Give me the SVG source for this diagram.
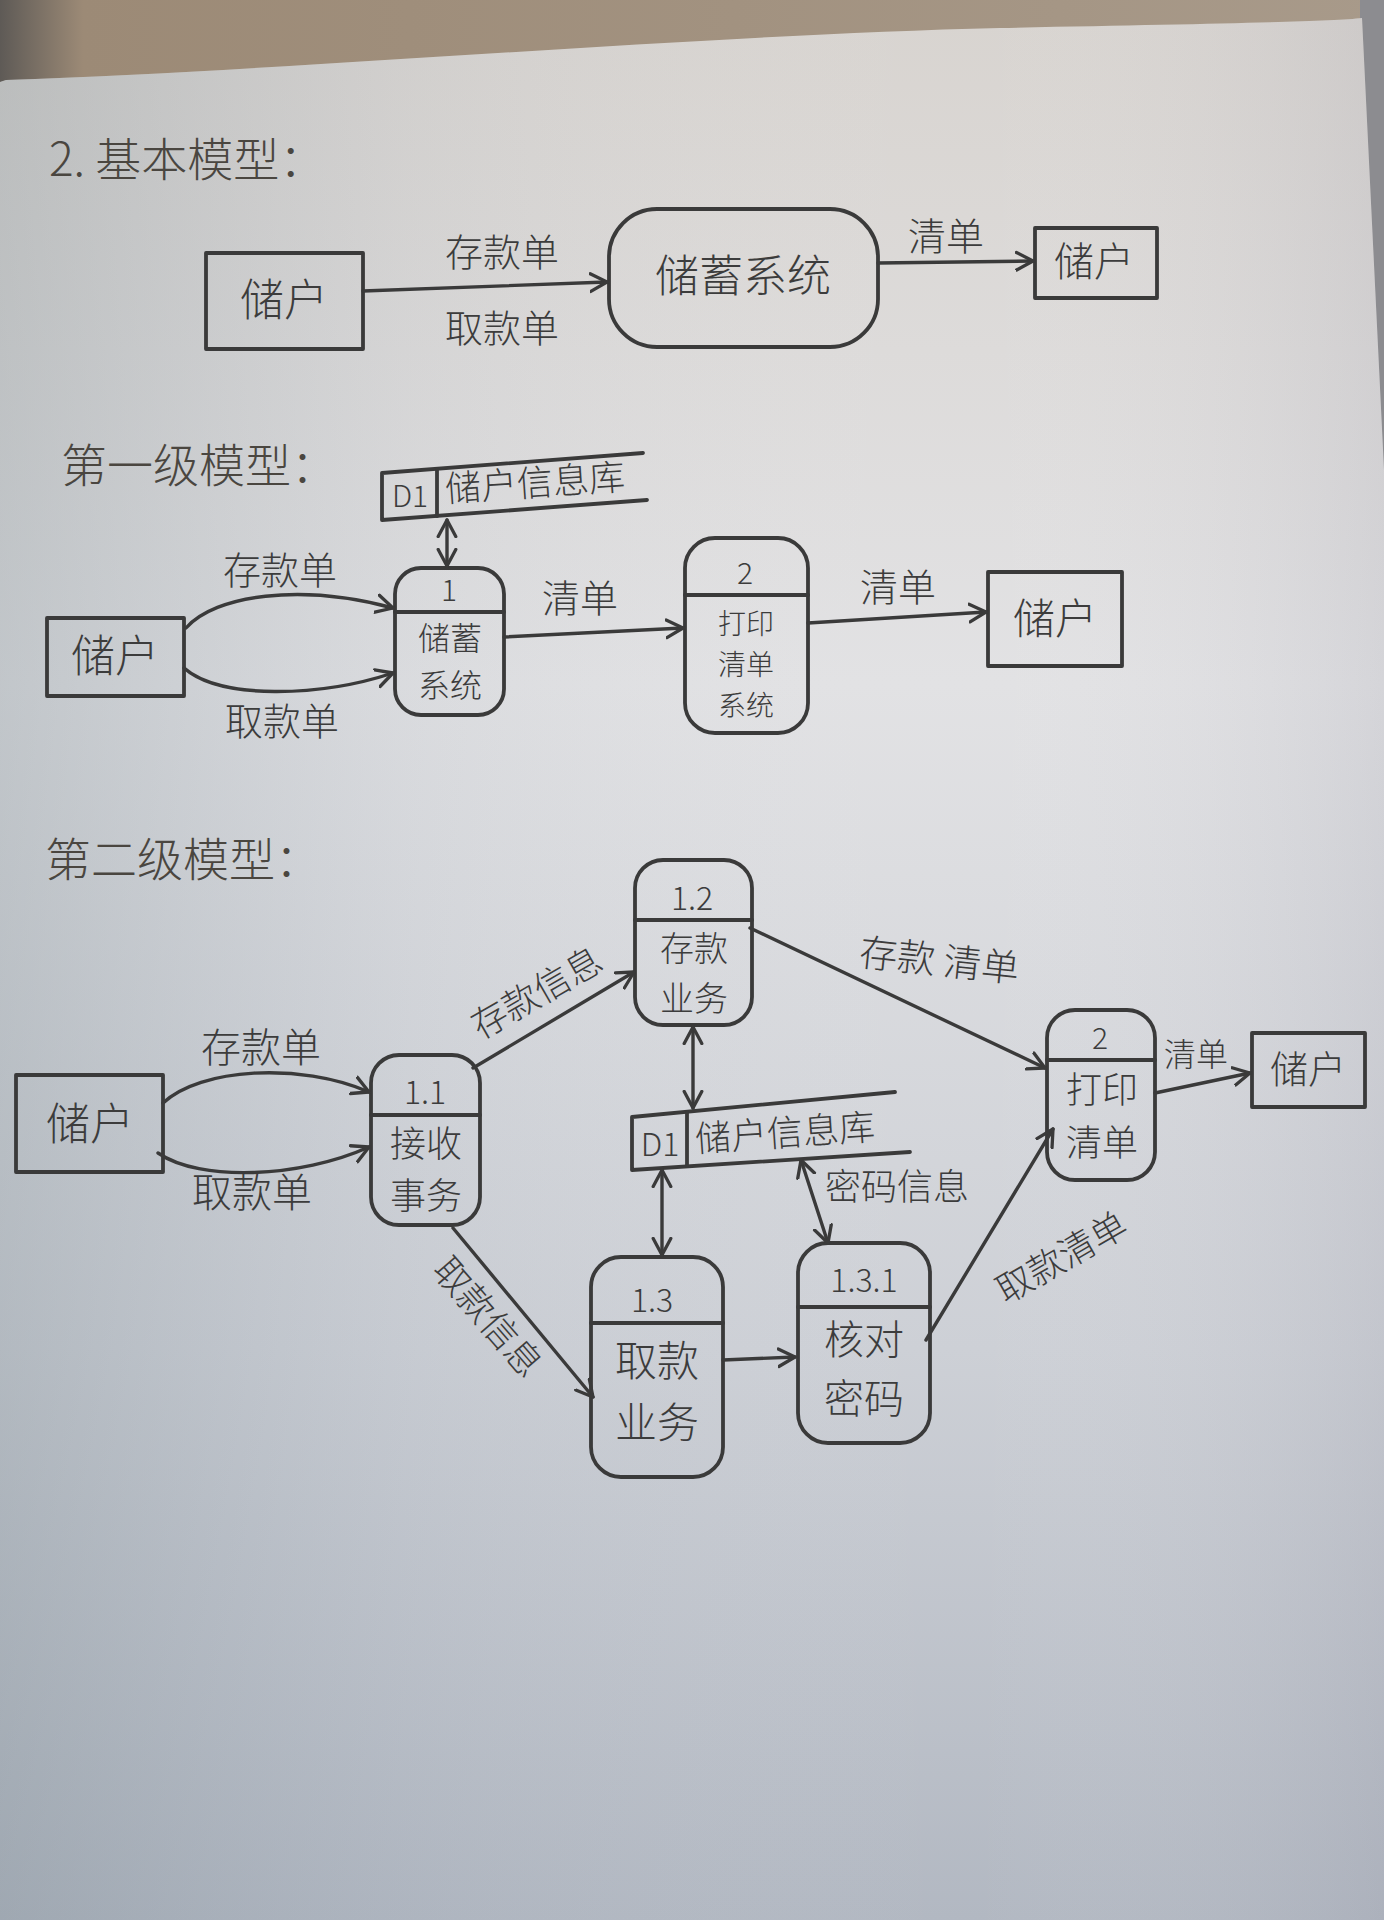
<svg xmlns="http://www.w3.org/2000/svg" width="1384" height="1920" viewBox="0 0 1384 1920">
<defs>
<linearGradient id="bgTop" x1="0" y1="0" x2="1" y2="0">
<stop offset="0" stop-color="#5e5a56"/>
<stop offset="0.06" stop-color="#9c8a76"/>
<stop offset="1" stop-color="#a89a8a"/>
</linearGradient>
<linearGradient id="paperV" x1="0" y1="0" x2="0" y2="1">
<stop offset="0" stop-color="#d8d4d0"/>
<stop offset="0.35" stop-color="#e2e2e4"/>
<stop offset="0.7" stop-color="#cdd0d6"/>
<stop offset="1" stop-color="#b2b8c2"/>
</linearGradient>
<linearGradient id="paperH" x1="0" y1="0" x2="1" y2="0">
<stop offset="0" stop-color="#6f7f88" stop-opacity="0.28"/>
<stop offset="0.3" stop-color="#8090a0" stop-opacity="0.08"/>
<stop offset="0.7" stop-color="#ffffff" stop-opacity="0"/>
<stop offset="1" stop-color="#8a8a9a" stop-opacity="0.15"/>
</linearGradient>
<marker id="arr" markerUnits="userSpaceOnUse" markerWidth="22" markerHeight="22" refX="16" refY="9" orient="auto-start-reverse" viewBox="0 0 20 18">
<path d="M1,1 L16,9 L1,17" fill="none" stroke="#3a3a3a" stroke-width="3" stroke-linecap="round" stroke-linejoin="round"/>
</marker>
<style>
.ln{fill:none;stroke:#3a3a3a;stroke-width:3.8;stroke-linecap:round;stroke-linejoin:round}
.ar{fill:none;stroke:#3a3a3a;stroke-width:3.4;stroke-linecap:round;marker-end:url(#arr)}
.bi{fill:none;stroke:#3a3a3a;stroke-width:3.4;stroke-linecap:round;marker-end:url(#arr);marker-start:url(#arr)}
.t{font-family:"Noto Sans CJK SC","Noto Sans",sans-serif;fill:#3c3c3c;font-weight:300}
.c{text-anchor:middle}
.title{font-family:"Noto Sans CJK SC","Noto Sans",sans-serif;fill:#4a4640;font-weight:300;font-size:46px}
</style>
</defs>

<!-- photo background -->
<rect x="0" y="0" width="1384" height="1920" fill="url(#bgTop)"/>
<rect x="1360" y="0" width="24" height="1920" fill="#8c8c90"/>
<path d="M6,80 C300,70 700,35 1000,28 C1200,24 1330,22 1362,18 L1384,470 L1384,1920 L0,1920 L0,82 Z" fill="url(#paperV)"/>
<path d="M6,80 C300,70 700,35 1000,28 C1200,24 1330,22 1362,18 L1384,470 L1384,1920 L0,1920 L0,82 Z" fill="url(#paperH)"/>

<!-- ===== Section 1: 基本模型 ===== -->
<text class="title" x="49" y="176">2.  基本模型：</text>

<g id="s1-user-left">
<rect class="ln" x="206" y="253" width="157" height="96"/>
<text class="t c" x="284" y="316" font-size="44">储户</text>
</g>
<g id="s1-system">
<rect class="ln" x="609" y="209" width="269" height="138" rx="48"/>
<text class="t c" x="743" y="292" font-size="44">储蓄系统</text>
</g>
<g id="s1-user-right">
<rect class="ln" x="1035" y="228" width="122" height="70"/>
<text class="t c" x="1094" y="276" font-size="40">储户</text>
</g>

<!-- ===== Section 2: 第一级模型 ===== -->
<text class="title" x="61" y="482">第一级模型：</text>

<g id="s2-store-d1">
<path class="ln" d="M643,453 L382,473 L382,520 L647,500"/>
<line class="ln" x1="437" y1="469" x2="437" y2="516"/>
<text class="t c" x="410" y="507" font-size="30">D1</text>
<text class="t" x="446" y="502" font-size="36" transform="rotate(-4 446 502)">储户信息库</text>
</g>
<g id="s2-user-left">
<rect class="ln" x="47" y="618" width="137" height="78"/>
<text class="t c" x="115" y="672" font-size="44">储户</text>
</g>
<g id="s2-process-1">
<rect class="ln" x="395" y="568" width="109" height="147" rx="26"/>
<line class="ln" x1="395" y1="612" x2="504" y2="612"/>
<text class="t c" x="449" y="601" font-size="30">1</text>
<text class="t c" x="450" y="650" font-size="32">储蓄</text>
<text class="t c" x="450" y="697" font-size="32">系统</text>
</g>
<g id="s2-process-2">
<rect class="ln" x="685" y="538" width="123" height="195" rx="30"/>
<line class="ln" x1="685" y1="595" x2="808" y2="595"/>
<text class="t c" x="745" y="584" font-size="30">2</text>
<text class="t c" x="746" y="634" font-size="28">打印</text>
<text class="t c" x="746" y="675" font-size="28">清单</text>
<text class="t c" x="746" y="716" font-size="28">系统</text>
</g>
<g id="s2-user-right">
<rect class="ln" x="988" y="572" width="134" height="94"/>
<text class="t c" x="1055" y="634" font-size="42">储户</text>
</g>

<!-- ===== Section 3: 第二级模型 ===== -->
<text class="title" x="45" y="876">第二级模型：</text>

<g id="s3-user-left">
<rect class="ln" x="16" y="1075" width="147" height="97"/>
<text class="t c" x="90" y="1140" font-size="44">储户</text>
</g>
<g id="s3-process-1-1">
<rect class="ln" x="371" y="1055" width="109" height="170" rx="28"/>
<line class="ln" x1="371" y1="1115" x2="480" y2="1115"/>
<text class="t c" x="425" y="1104" font-size="32">1.1</text>
<text class="t c" x="426" y="1157" font-size="36">接收</text>
<text class="t c" x="426" y="1209" font-size="36">事务</text>
</g>
<g id="s3-process-1-2">
<rect class="ln" x="635" y="860" width="117" height="165" rx="28"/>
<line class="ln" x1="635" y1="920" x2="752" y2="920"/>
<text class="t c" x="692" y="910" font-size="32">1.2</text>
<text class="t c" x="694" y="961" font-size="34">存款</text>
<text class="t c" x="694" y="1011" font-size="34">业务</text>
</g>
<g id="s3-store-d1">
<path class="ln" d="M895,1092 L632,1117 L632,1170 L910,1152"/>
<line class="ln" x1="687" y1="1112" x2="687" y2="1166"/>
<text class="t c" x="660" y="1156" font-size="32">D1</text>
<text class="t" x="696" y="1152" font-size="36" transform="rotate(-4 696 1152)">储户信息库</text>
</g>
<g id="s3-process-1-3">
<rect class="ln" x="591" y="1257" width="132" height="220" rx="30"/>
<line class="ln" x1="591" y1="1323" x2="723" y2="1323"/>
<text class="t c" x="652" y="1312" font-size="32">1.3</text>
<text class="t c" x="657" y="1376" font-size="42">取款</text>
<text class="t c" x="657" y="1438" font-size="42">业务</text>
</g>
<g id="s3-process-1-3-1">
<rect class="ln" x="798" y="1243" width="132" height="200" rx="30"/>
<line class="ln" x1="798" y1="1307" x2="930" y2="1307"/>
<text class="t c" x="864" y="1292" font-size="32">1.3.1</text>
<text class="t c" x="864" y="1354" font-size="40">核对</text>
<text class="t c" x="864" y="1413" font-size="40">密码</text>
</g>
<g id="s3-process-2">
<rect class="ln" x="1047" y="1010" width="108" height="170" rx="28"/>
<line class="ln" x1="1047" y1="1060" x2="1155" y2="1060"/>
<text class="t c" x="1100" y="1049" font-size="30">2</text>
<text class="t c" x="1102" y="1103" font-size="36">打印</text>
<text class="t c" x="1102" y="1156" font-size="36">清单</text>
</g>
<g id="s3-user-right">
<rect class="ln" x="1252" y="1033" width="113" height="74"/>
<text class="t c" x="1308" y="1083" font-size="38">储户</text>
</g>

<!-- ===== Connectors ===== -->
<g id="connectors">
<!-- section 1 -->
<path class="ar" d="M363,291 L607,282"/>
<text class="t c" x="502" y="266" font-size="38">存款单</text>
<text class="t c" x="502" y="342" font-size="38">取款单</text>
<path class="ar" d="M878,263 L1033,261"/>
<text class="t c" x="946" y="250" font-size="38">清单</text>

<!-- section 2 -->
<path class="bi" d="M447,520 L447,566"/>
<path class="ar" d="M186,628 C215,595 300,583 393,608"/>
<path class="ar" d="M184,668 C220,700 320,697 393,673"/>
<text class="t c" x="280" y="584" font-size="38">存款单</text>
<text class="t c" x="282" y="735" font-size="38">取款单</text>
<path class="ar" d="M504,637 L683,628"/>
<text class="t c" x="580" y="612" font-size="38">清单</text>
<path class="ar" d="M808,623 L986,612"/>
<text class="t c" x="898" y="601" font-size="38">清单</text>

<!-- section 3 -->
<path class="ar" d="M163,1103 C200,1068 300,1062 369,1092"/>
<path class="ar" d="M158,1153 C200,1182 300,1178 369,1147"/>
<text class="t c" x="261" y="1062" font-size="40">存款单</text>
<text class="t c" x="252" y="1207" font-size="40">取款单</text>
<path class="ar" d="M473,1068 L634,972"/>
<text class="t c" x="543" y="1004" font-size="36" transform="rotate(-30 543 1004)">存款信息</text>
<path class="ar" d="M750,928 L1045,1068"/>
<text class="t c" x="938" y="974" font-size="38" transform="rotate(6 938 974)">存款  清单</text>
<path class="ar" d="M1155,1093 L1250,1073"/>
<text class="t c" x="1196" y="1066" font-size="32">清单</text>
<path class="bi" d="M693,1027 L693,1108"/>
<path class="bi" d="M662,1170 L662,1255"/>
<path class="bi" d="M801,1160 L828,1243"/>
<text class="t c" x="897" y="1200" font-size="36">密码信息</text>
<path class="ar" d="M453,1228 L593,1397"/>
<text class="t c" x="488" y="1330" font-size="36" transform="rotate(49 488 1317)">取款信息</text>
<path class="ar" d="M723,1360 L795,1357"/>
<path class="ar" d="M926,1340 L1053,1129"/>
<text class="t c" x="1062" y="1270" font-size="36" transform="rotate(-30 1062 1258)">取款清单</text>
</g>
</svg>
